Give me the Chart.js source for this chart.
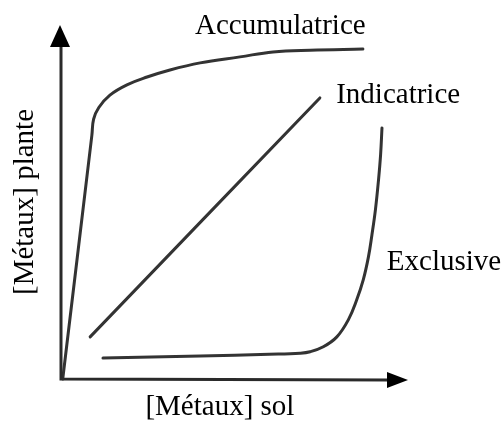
<!DOCTYPE html>
<html>
<head>
<meta charset="utf-8">
<script src="https://cdn.jsdelivr.net/npm/chart.js@4/dist/chart.umd.min.js"></script>
<style>
  html, body { margin: 0; padding: 0; background: #ffffff; }
  #c { display: block; }
</style>
</head>
<body>
<canvas id="c" width="501" height="425"></canvas>
<script>
// ---- Data (conceptual units 0..100 on both axes) ----
const seriesNames = ["Accumulatrice", "Indicatrice", "Exclusive"];
const accumulatriceX = [0.5, 8.9, 9.4, 10.9, 14.1, 19.0, 24.8, 31.4, 40.1, 51.6, 61.1, 71.8, 87.0];
const accumulatriceY = [0.0, 68.9, 73.4, 76.7, 80.2, 83.1, 85.3, 87.3, 89.3, 91.0, 92.4, 92.9, 93.2];
const indicatriceX = [8.4, 74.6];
const indicatriceY = [11.9, 79.4];
const exclusiveX = [12.1, 40.1, 60.0, 68.9, 71.8, 75.6, 79.5, 82.8, 85.2, 87.1, 88.6, 89.6, 90.6, 91.5, 92.1, 92.5];
const exclusiveY = [5.9, 6.5, 7.0, 7.3, 7.7, 9.1, 11.9, 16.7, 22.3, 28.0, 34.5, 40.7, 47.7, 56.2, 63.3, 70.9];
const xAxisTitle = "[Métaux] sol";
const yAxisTitle = "[Métaux] plante";

const toPoints = (xs, ys) => xs.map((x, i) => ({ x: x, y: ys[i] }));

const FONT = '29px "Liberation Serif", "Times New Roman", serif';

const annotatePlugin = {
  id: 'annotate',
  afterDatasetsDraw(chart) {
    const ctx = chart.ctx;
    const xs = chart.scales.x, ys = chart.scales.y;
    const ox = xs.getPixelForValue(0), oy = ys.getPixelForValue(0);
    const xTip = xs.getPixelForValue(100), yTip = ys.getPixelForValue(100);
    ctx.save();
    // axes lines
    ctx.strokeStyle = '#2a2a2a';
    ctx.lineWidth = 3;
    ctx.lineCap = 'butt';
    ctx.beginPath();
    ctx.moveTo(ox, oy + 1.5);
    ctx.lineTo(ox, yTip + 20);
    ctx.moveTo(ox - 1.5, oy);
    ctx.lineTo(xTip - 19, oy + 1);
    ctx.stroke();
    // arrow heads
    ctx.fillStyle = '#000';
    ctx.beginPath();
    ctx.moveTo(ox - 1, yTip);
    ctx.lineTo(ox - 11, yTip + 22);
    ctx.lineTo(ox + 9, yTip + 22);
    ctx.closePath();
    ctx.fill();
    ctx.beginPath();
    ctx.moveTo(xTip, oy + 1);
    ctx.lineTo(xTip - 21, oy - 7);
    ctx.lineTo(xTip - 21, oy + 9);
    ctx.closePath();
    ctx.fill();

    // texts
    ctx.fillStyle = '#000';
    ctx.font = FONT;
    ctx.textBaseline = 'alphabetic';
    ctx.textAlign = 'left';
    ctx.fillText(seriesNames[0], xs.getPixelForValue(38.6), ys.getPixelForValue(97.5));
    ctx.fillText(seriesNames[1], xs.getPixelForValue(79.3), ys.getPixelForValue(78.0));
    ctx.fillText(seriesNames[2], xs.getPixelForValue(93.9), ys.getPixelForValue(30.8));
    // axis titles
    ctx.textAlign = 'center';
    ctx.fillText(xAxisTitle, xs.getPixelForValue(45.8), oy + 36);
    ctx.save();
    ctx.translate(ox - 28, ys.getPixelForValue(50));
    ctx.rotate(-Math.PI / 2);
    ctx.fillText(yAxisTitle, 0, 0);
    ctx.restore();
    ctx.restore();
  }
};

const lineStyle = {
  showLine: true,
  pointRadius: 0,
  pointHoverRadius: 0,
  borderWidth: 3,
  borderColor: '#333333',
  backgroundColor: '#333333',
  fill: false,
  tension: 0.4,
  borderCapStyle: 'round',
  clip: false
};

new Chart(document.getElementById('c'), {
  type: 'scatter',
  data: {
    datasets: [
      Object.assign({ label: seriesNames[0], data: toPoints(accumulatriceX, accumulatriceY) }, lineStyle),
      Object.assign({ label: seriesNames[1], data: toPoints(indicatriceX, indicatriceY) }, lineStyle),
      Object.assign({ label: seriesNames[2], data: toPoints(exclusiveX, exclusiveY) }, lineStyle)
    ]
  },
  options: {
    responsive: false,
    animation: false,
    events: [],
    layout: { padding: { left: 61, right: 93, top: 25, bottom: 46 } },
    scales: {
      x: { type: 'linear', min: 0, max: 100, display: false },
      y: { type: 'linear', min: 0, max: 100, display: false }
    },
    plugins: {
      legend: { display: false },
      tooltip: { enabled: false }
    }
  },
  plugins: [annotatePlugin]
});
</script>
</body>
</html>
